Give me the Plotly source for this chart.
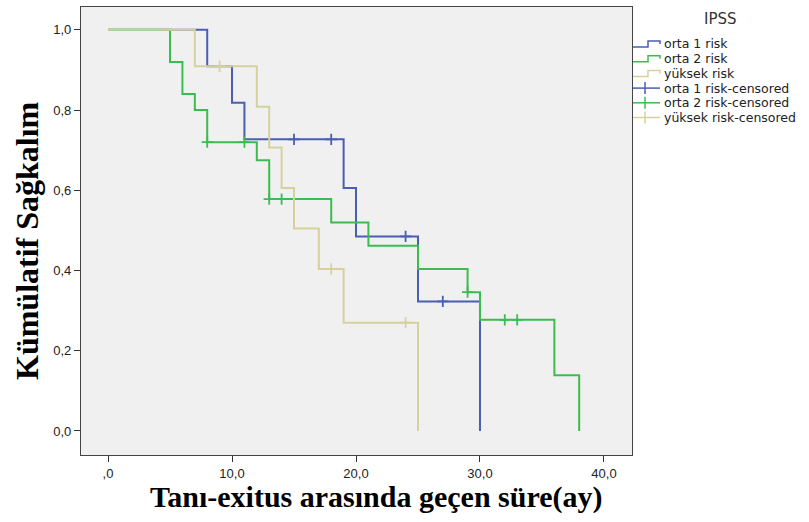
import plotly.graph_objects as go

# ---- data ----
group_names = ["orta 1 risk", "orta 2 risk", "yüksek risk"]

orta1_time = [0, 8, 10, 11, 19, 20, 25, 30]
orta1_surv = [1.0, 0.909, 0.818, 0.727, 0.606, 0.485, 0.323, 0.0]
orta1_cens_time = [15, 18, 24, 27]
orta1_cens_surv = [0.727, 0.727, 0.485, 0.323]

orta2_time = [0, 5, 6, 7, 8, 12, 13, 18, 21, 25, 29, 30, 36, 38]
orta2_surv = [1.0, 0.92, 0.84, 0.80, 0.72, 0.675, 0.578, 0.52, 0.462, 0.404, 0.346, 0.277, 0.139, 0.0]
orta2_cens_time = [8, 11, 13, 14, 29, 32, 33]
orta2_cens_surv = [0.72, 0.72, 0.578, 0.578, 0.346, 0.277, 0.277]

yuksek_time = [0, 7, 12, 13, 14, 15, 17, 19, 25]
yuksek_surv = [1.0, 0.909, 0.808, 0.707, 0.606, 0.505, 0.404, 0.27, 0.0]
yuksek_cens_time = [9, 18, 24]
yuksek_cens_surv = [0.909, 0.404, 0.27]

x_tick_vals = [0, 10, 20, 30, 40]
x_tick_text = [",0", "10,0", "20,0", "30,0", "40,0"]
y_tick_vals = [0.0, 0.2, 0.4, 0.6, 0.8, 1.0]
y_tick_text = ["0,0", "0,2", "0,4", "0,6", "0,8", "1,0"]

x_title = "Tanı-exitus arasında geçen süre(ay)"
y_title = "Kümülatif Sağkalım"
legend_title = "IPSS"
legend_labels = ["orta 1 risk", "orta 2 risk", "yüksek risk",
                 "orta 1 risk-censored", "orta 2 risk-censored", "yüksek risk-censored"]

colors = ["#4a5eb2", "#3cbc50", "#d6d19c"]

# ---- figure ----
W, H = 809, 522
L, R, T, B = 81, 632, 7, 455

fig = go.Figure()
series = [
    (orta1_time, orta1_surv, orta1_cens_time, orta1_cens_surv),
    (orta2_time, orta2_surv, orta2_cens_time, orta2_cens_surv),
    (yuksek_time, yuksek_surv, yuksek_cens_time, yuksek_cens_surv),
]
for (t, s, ct, cs), col, name in zip(series, colors, group_names):
    fig.add_trace(go.Scatter(x=t, y=s, mode="lines", line=dict(shape="hv", color=col, width=2),
                             name=name, showlegend=False, hoverinfo="skip"))
for (t, s, ct, cs), col, name in zip(series, colors, group_names):
    fig.add_trace(go.Scatter(x=ct, y=cs, mode="markers",
                             marker=dict(symbol="cross-thin", size=8, line=dict(color=col, width=1.8)),
                             name=name + "-censored", showlegend=False, hoverinfo="skip"))

tick_font = dict(family="Arial, Liberation Sans, sans-serif", size=13, color="#222")
serif = "Liberation Serif, Times New Roman, serif"

fig.update_xaxes(range=[-2.18, 42.26], tickmode="array", tickvals=x_tick_vals, ticktext=x_tick_text,
                 ticks="outside", ticklen=6, tickcolor="#333", tickwidth=1,
                 showgrid=False, zeroline=False, showline=True, linecolor="#444", linewidth=1.2, mirror=True,
                 tickfont=tick_font)
fig.update_yaxes(range=[-0.06, 1.057], tickmode="array", tickvals=y_tick_vals, ticktext=y_tick_text,
                 ticks="outside", ticklen=6, tickcolor="#333", tickwidth=1,
                 showgrid=False, zeroline=False, showline=True, linecolor="#444", linewidth=1.2, mirror=True,
                 tickfont=tick_font)

def px2paper(px, py):
    return (px - L) / (R - L), (B - py) / (B - T)

shapes = []
annotations = []

# axis titles
ax_x, ax_y = px2paper(376, 497)
annotations.append(dict(x=ax_x, y=ax_y, xref="paper", yref="paper", text="<b>" + x_title + "</b>",
                        showarrow=False, xanchor="center", yanchor="middle",
                        font=dict(family=serif, size=30, color="black")))
ay_x, ay_y = px2paper(27, 241)
annotations.append(dict(x=ay_x, y=ay_y, xref="paper", yref="paper", text="<b>" + y_title + "</b>",
                        showarrow=False, xanchor="center", yanchor="middle", textangle=-90,
                        font=dict(family=serif, size=32, color="black")))

leg_font = "DejaVu Sans, Arial, sans-serif"
tx, ty = px2paper(720, 19)
annotations.append(dict(x=tx, y=ty, xref="paper", yref="paper", text=legend_title, showarrow=False,
                        xanchor="center", yanchor="middle",
                        font=dict(family=leg_font, size=15, color="#333")))
legend_colors = colors + colors
for i, (lab, col) in enumerate(zip(legend_labels, legend_colors)):
    yc = 44 + 14.7 * i
    if i < 3:
        pts = [(633, yc + 3), (648, yc + 3), (648, yc - 3), (660, yc - 3), (660, yc)]
        path = ""
        for j, (a, b) in enumerate(pts):
            xa, yb = px2paper(a, b)
            path += ("M" if j == 0 else "L") + f" {xa:.5f},{yb:.5f} "
        shapes.append(dict(type="path", path=path, xref="paper", yref="paper",
                           line=dict(color=col, width=1.5)))
    else:
        x0, y0 = px2paper(633, yc)
        x1, _ = px2paper(660, yc)
        shapes.append(dict(type="line", x0=x0, x1=x1, y0=y0, y1=y0, xref="paper", yref="paper",
                           line=dict(color=col, width=1.5)))
        xm, ya = px2paper(645, yc - 6)
        _, yb = px2paper(645, yc + 6)
        shapes.append(dict(type="line", x0=xm, x1=xm, y0=ya, y1=yb, xref="paper", yref="paper",
                           line=dict(color=col, width=1.5)))
    lx, ly = px2paper(662, yc)
    annotations.append(dict(x=lx, y=ly, xref="paper", yref="paper", text=lab, showarrow=False,
                            xanchor="left", yanchor="middle",
                            font=dict(family=leg_font, size=12.5, color="#222")))

fig.update_layout(width=W, height=H, margin=dict(l=L, r=W - R, t=T, b=H - B),
                  plot_bgcolor="#f0f0f0", paper_bgcolor="white",
                  shapes=shapes, annotations=annotations, showlegend=False)

fig.write_html("out.html")
